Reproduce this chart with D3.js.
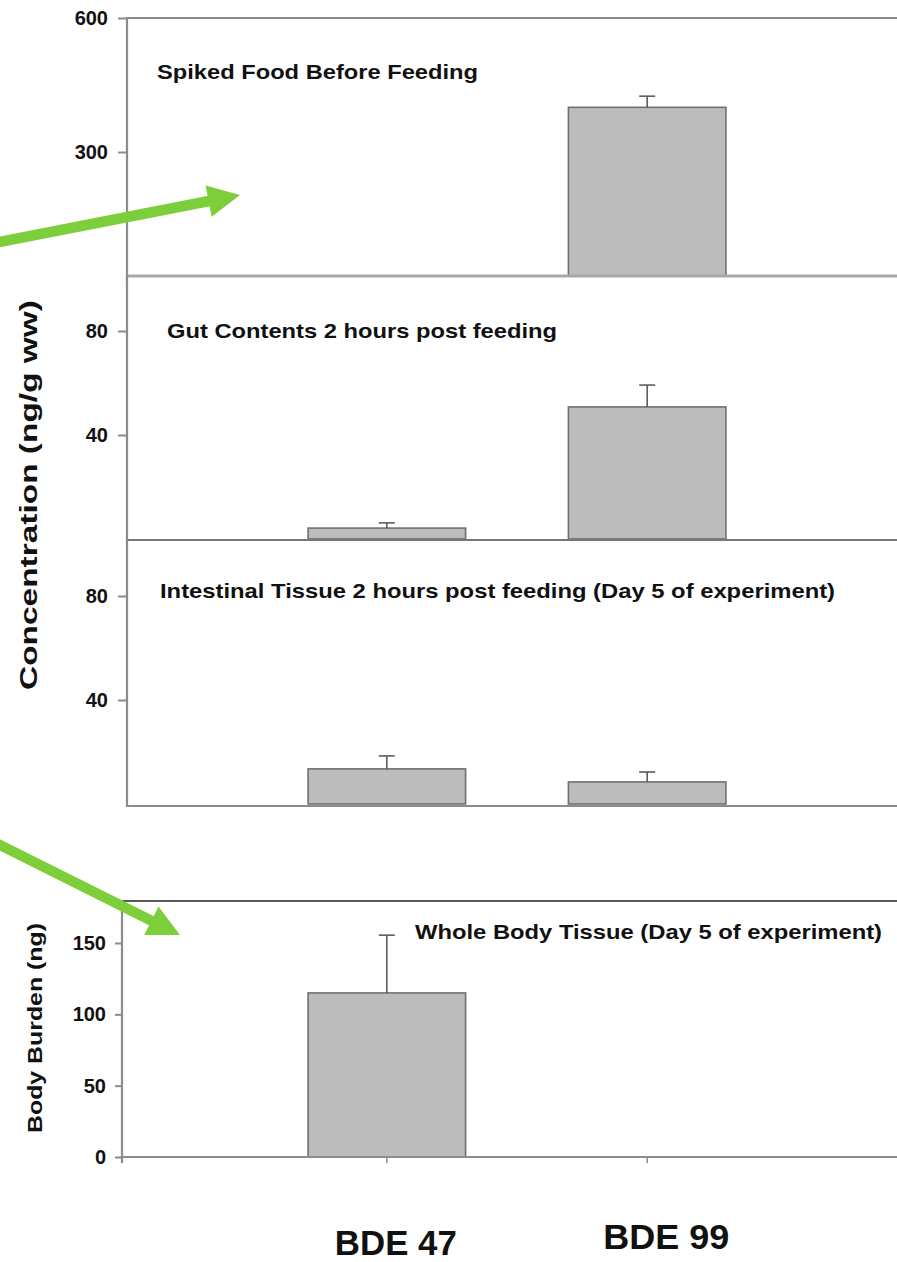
<!DOCTYPE html>
<html>
<head>
<meta charset="utf-8">
<script src="https://cdn.jsdelivr.net/npm/d3@7"></script>
<style>
  html, body { margin: 0; padding: 0; background: #fff; }
  svg { display: block; }
  text { font-family: "Liberation Sans", Arial, sans-serif; fill: #111; }
</style>
</head>
<body>
<svg id="chart" width="897" height="1262"></svg>
<script>
// ---- data ----
const categories = ["BDE 47", "BDE 99"];

const spikedFood = [0, 400];
const spikedFoodErr = [0, 25];

const gutContents = [4.2, 50.8];
const gutContentsErr = [2, 8.4];

const intestinalTissue = [13.5, 8.5];
const intestinalTissueErr = [5, 3.8];

const wholeBody = [115, 0];
const wholeBodyErr = [40.5, 0];

const spikedTicks = [300, 600];
const gutTicks = [40, 80];
const intestinalTicks = [40, 80];
const wholeBodyTicks = [0, 50, 100, 150];

const panelTitles = [
  "Spiked Food Before Feeding",
  "Gut Contents 2 hours post feeding",
  "Intestinal Tissue 2 hours post feeding (Day 5 of experiment)",
  "Whole Body Tissue (Day 5 of experiment)"
];

const concentrationLabel = "Concentration (ng/g ww)";
const burdenLabel = "Body Burden (ng)";

// ---- layout ----
const svg = d3.select("#chart");
const W = 897;
const barFill = "#bcbcbc", barStroke = "#707070";
const axisColor = "#8c8c8c";

const x = d3.scaleBand().domain(categories).range([256, 778])
  .paddingInner(0.395).paddingOuter(0.2);

const panels = [
  { values: spikedFood, errs: spikedFoodErr, ticks: spikedTicks, title: panelTitles[0],
    domain: [0, 600], range: [286, 18], axisX: 127, top: 18, bottom: 286,
    topLine: { color: "#8a8a8a", w: 2 }, tickLen: 9, tickPad: 10,
    titleX: 157, titleY: 79, titleLen: 321, bottomTicks: false },
  { values: gutContents, errs: gutContentsErr, ticks: gutTicks, title: panelTitles[1],
    domain: [0, 80], range: [539, 331], axisX: 127, top: 276, bottom: 540,
    topLine: { color: "#a8a8a8", w: 3 }, tickLen: 9, tickPad: 10,
    titleX: 167, titleY: 338, titleLen: 390, bottomTicks: true },
  { values: intestinalTissue, errs: intestinalTissueErr, ticks: intestinalTicks, title: panelTitles[2],
    domain: [0, 80], range: [804, 596], axisX: 127, top: 540, bottom: 806,
    topLine: { color: "#777", w: 2 }, tickLen: 9, tickPad: 10,
    titleX: 160, titleY: 598, titleLen: 675, bottomTicks: false },
  { values: wholeBody, errs: wholeBodyErr, ticks: wholeBodyTicks, title: panelTitles[3],
    domain: [0, 180], range: [1157, 1157 - 180 * (214 / 150)], axisX: 122, top: 901, bottom: 1157,
    topLine: { color: "#5a5a5a", w: 2.2 }, tickLen: 7, tickPad: 9,
    titleX: 415, titleY: 939, titleLen: 467, bottomTicks: true, tickBelow: 6 }
];

panels.forEach((p, i) => {
  const g = svg.append("g").attr("class", "panel-" + i);
  const y = d3.scaleLinear().domain(p.domain).range(p.range);
  const y0 = y(0);

  // plot area background (later panels sit over earlier ones)
  g.append("rect")
    .attr("x", p.axisX).attr("y", p.top)
    .attr("width", W - p.axisX + 5).attr("height", p.bottom - p.top)
    .attr("fill", "#fff");

  // bars
  const rows = categories.map((c, k) => ({ c, v: p.values[k], e: p.errs[k] }));
  g.selectAll("rect.bar").data(rows.filter(d => d.v > 0)).join("rect")
    .attr("class", "bar")
    .attr("x", d => x(d.c))
    .attr("y", d => y(d.v))
    .attr("width", x.bandwidth())
    .attr("height", d => y0 - y(d.v))
    .attr("fill", barFill)
    .attr("stroke", barStroke)
    .attr("stroke-width", 1.6);

  // error bars (upper only)
  const eb = g.selectAll("g.err").data(rows.filter(d => d.v > 0 && d.e > 0)).join("g")
    .attr("class", "err")
    .attr("stroke", "#5c5c5c").attr("stroke-width", 1.6);
  eb.append("line")
    .attr("x1", d => x(d.c) + x.bandwidth() / 2).attr("x2", d => x(d.c) + x.bandwidth() / 2)
    .attr("y1", d => y(d.v)).attr("y2", d => y(d.v + d.e));
  eb.append("line")
    .attr("x1", d => x(d.c) + x.bandwidth() / 2 - 8).attr("x2", d => x(d.c) + x.bandwidth() / 2 + 8)
    .attr("y1", d => y(d.v + d.e)).attr("y2", d => y(d.v + d.e));

  // frame: top border and baseline
  g.append("line")
    .attr("x1", p.axisX).attr("x2", W + 5)
    .attr("y1", p.top).attr("y2", p.top)
    .attr("stroke", p.topLine.color).attr("stroke-width", p.topLine.w);
  g.append("line")
    .attr("x1", p.axisX).attr("x2", W + 5)
    .attr("y1", p.bottom).attr("y2", p.bottom)
    .attr("stroke", axisColor).attr("stroke-width", 2);

  // category ticks under the baseline
  if (p.bottomTicks) {
    const tl = p.tickBelow || 4;
    g.selectAll("line.ctick").data(categories).join("line")
      .attr("class", "ctick")
      .attr("x1", d => x(d) + x.bandwidth() / 2).attr("x2", d => x(d) + x.bandwidth() / 2)
      .attr("y1", p.bottom).attr("y2", p.bottom + tl)
      .attr("stroke", axisColor).attr("stroke-width", 1.5);
    if (p.tickBelow) {
      g.append("line").attr("x1", p.axisX).attr("x2", p.axisX)
        .attr("y1", p.bottom).attr("y2", p.bottom + tl)
        .attr("stroke", axisColor).attr("stroke-width", 1.5);
    }
  }

  // value axis
  const axis = d3.axisLeft(y).tickValues(p.ticks).tickSize(p.tickLen).tickPadding(p.tickPad)
    .tickFormat(d3.format("d"));
  const ag = g.append("g").attr("transform", `translate(${p.axisX},0)`).call(axis);
  ag.select(".domain").remove();
  ag.selectAll(".tick line").attr("stroke", axisColor).attr("stroke-width", 2);
  ag.selectAll(".tick text")
    .attr("font-size", 20).attr("font-weight", "bold").attr("fill", "#1a1a1a")
    .style("font-family", '"Liberation Sans", Arial, sans-serif');
  g.append("line")
    .attr("x1", p.axisX).attr("x2", p.axisX)
    .attr("y1", p.top - 1).attr("y2", p.bottom + (p.tickBelow ? p.tickBelow : 1))
    .attr("stroke", axisColor).attr("stroke-width", 2.2);

  // panel title
  g.append("text")
    .attr("x", p.titleX).attr("y", p.titleY)
    .attr("font-size", 21).attr("font-weight", "bold")
    .attr("textLength", p.titleLen).attr("lengthAdjust", "spacingAndGlyphs")
    .text(p.title);
});

// y-axis titles
svg.append("text")
  .attr("transform", "translate(37,495) rotate(-90)")
  .attr("text-anchor", "middle")
  .attr("font-size", 24).attr("font-weight", "bold")
  .attr("textLength", 390).attr("lengthAdjust", "spacingAndGlyphs")
  .text(concentrationLabel);

svg.append("text")
  .attr("transform", "translate(42,1028) rotate(-90)")
  .attr("text-anchor", "middle")
  .attr("font-size", 21).attr("font-weight", "bold")
  .attr("textLength", 210).attr("lengthAdjust", "spacingAndGlyphs")
  .text(burdenLabel);

// category labels under the bottom panel
const catLabelShift = [9, 19];
const catLabelBase = [1255, 1249];
svg.selectAll("text.cat").data(categories).join("text")
  .attr("class", "cat")
  .attr("x", (d, k) => x(d) + x.bandwidth() / 2 + catLabelShift[k])
  .attr("y", (d, k) => catLabelBase[k])
  .attr("text-anchor", "middle")
  .attr("font-size", 35).attr("font-weight", "bold")
  .attr("textLength", (d, k) => [122, 126][k]).attr("lengthAdjust", "spacingAndGlyphs")
  .text(d => d);

// green callout arrows
const arrowColor = "#7ccf3a";
const arrows = [
  { from: [-6, 243], to: [240, 195] },
  { from: [-6, 842], to: [180, 935] }
];
arrows.forEach(a => {
  const dx = a.to[0] - a.from[0], dy = a.to[1] - a.from[1];
  const len = Math.hypot(dx, dy);
  const ux = dx / len, uy = dy / len, nx = -uy, ny = ux;
  const headLen = 32, headHalf = 16;
  const bx = a.to[0] - ux * headLen, by = a.to[1] - uy * headLen;
  svg.append("line")
    .attr("x1", a.from[0]).attr("y1", a.from[1])
    .attr("x2", bx + ux * 2).attr("y2", by + uy * 2)
    .attr("stroke", arrowColor).attr("stroke-width", 10.5);
  svg.append("polygon")
    .attr("points", [
      [a.to[0], a.to[1]],
      [bx + nx * headHalf, by + ny * headHalf],
      [bx - nx * headHalf, by - ny * headHalf]
    ].map(q => q.join(",")).join(" "))
    .attr("fill", arrowColor);
});
</script>
</body>
</html>
